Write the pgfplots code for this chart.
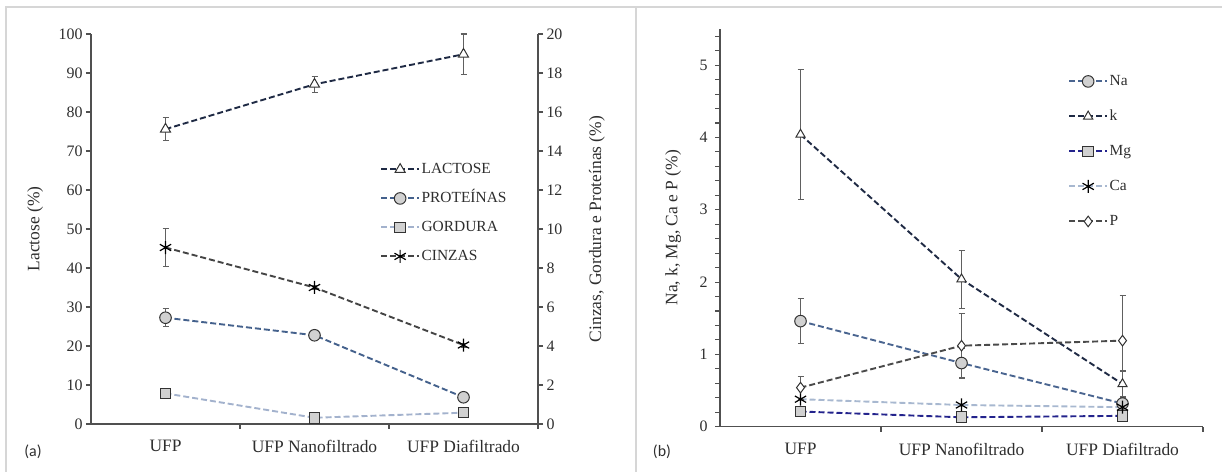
\documentclass[border=0pt]{standalone}
\usepackage{pgfplots}
\pgfplotsset{compat=1.18}
\usepackage{fontspec}
\setmainfont{Liberation Serif}
\newfontfamily\labfont{Carlito}
\definecolor{frameC}{HTML}{D6D6D6}
\definecolor{axisC}{HTML}{505050}
\definecolor{textC}{HTML}{2E2E2E}
\definecolor{errC}{HTML}{606060}
\definecolor{mkC}{HTML}{333333}
\definecolor{lactC}{HTML}{1F2A44}
\definecolor{protC}{HTML}{44618C}
\definecolor{gordC}{HTML}{A3B2CD}
\definecolor{cinzC}{HTML}{444444}
\definecolor{NaC}{HTML}{4A6590}
\definecolor{kC}{HTML}{1F2A44}
\definecolor{MgC}{HTML}{23238C}
\definecolor{CaC}{HTML}{A8B8D0}
\definecolor{PC}{HTML}{4A4A4A}
\tikzset{ylab/.style={font=\fontsize{17.5}{19}\selectfont, text=textC, rotate=90, anchor=center}}
\pgfplotsset{
  base/.style={scale only axis, xmin=0, xmax=3, clip=false,
    axis line style={axisC, line width=1.3bp},
    tick style={axisC, line width=1.1bp},
    tick align=outside, major tick length=5bp, minor tick length=5bp,
    yticklabel style={font=\fontsize{16}{18}\selectfont, text=textC},
    xticklabel style={font=\fontsize{17.5}{19}\selectfont, text=textC, yshift=-8bp},
    /pgf/number format/assume math mode=true,
    legend cell align=left,
    legend image code/.code={\draw[mark repeat=2,mark phase=2] plot coordinates {(0bp,0bp)(19bp,0bp)(38bp,0bp)};},
  },
  ser/.style={dash pattern=on 6bp off 3bp, line width=1.9bp},
  eb/.style={error bars/.cd, y dir=both, y explicit,
    error bar style={solid, line width=1.1bp, color=errC},
    error mark options={rotate=90, mark size=3bp, solid, errC, line width=1.1bp}},
  mtri/.style={mark=triangle*, mark size=5.8bp, mark options={solid, fill=white, draw=mkC, line width=1bp}},
  mcirc/.style={mark=*, mark size=5.8bp, mark options={solid, fill=black!18, draw=mkC, line width=1bp}},
  msq/.style={mark=square*, mark size=5.3bp, mark options={solid, fill=black!18, draw=mkC, line width=1bp}},
  mstar/.style={mark=asterisk, mark size=6.5bp, mark options={solid, draw=black, line width=1.2bp}},
  mdia/.style={mark=diamond*, mark size=5.3bp, mark options={solid, fill=white, draw=mkC, line width=1bp}},
}
\begin{document}
\begin{tikzpicture}[x=1bp,y=1bp]
\useasboundingbox (0,0) rectangle (1222,472);
\draw[frameC, line width=1.2bp] (6,0) -- (6,465) -- (1222,465);
\draw[frameC, line width=1.2bp] (636,0) -- (636,465);
\node[font=\labfont\fontsize{16}{18}\selectfont, text=textC] at (33,20) {(a)};
\node[font=\labfont\fontsize{16}{18}\selectfont, text=textC] at (662,20) {(b)};

% ---------- panel (a), left axis
\begin{axis}[base, at={(91bp,48bp)}, anchor=south west, width=447bp, height=390bp,
  axis y line*=left, axis x line*=bottom,
  ymin=0, ymax=100, ytick={0,10,...,100},
  xtick={0.5,1.5,2.5}, xticklabels={UFP, UFP Nanofiltrado, UFP Diafiltrado},
  major x tick style={draw=none}, minor xtick={1,2,3},
  ylabel={Lactose (\%)},
  every axis y label/.style={at={(axis description cs:-0.125,0.5)}, ylab},
]
\addplot[ser, lactC, mtri, eb] coordinates {
  (0.5,75.6) +- (0,3.0)
  (1.5,87.1) +- (0,2.0)
  (2.5,94.8) +- (0,5.2)
};
\end{axis}

% ---------- panel (a), right axis
\begin{axis}[base, at={(91bp,48bp)}, anchor=south west, width=447bp, height=390bp,
  axis y line*=right, axis x line=none,
  ymin=0, ymax=20, ytick={0,2,...,20},
  ylabel={Cinzas, Gordura e Proteínas (\%)},
  every axis y label/.style={at={(axis description cs:1.132,0.5)}, ylab},
  legend style={draw=none, fill=none, at={(axis description cs:0.6465,0.675)}, anchor=north west,
    font=\fontsize{15.5}{17}\selectfont, text=textC, row sep=12bp, inner sep=0pt,
    nodes={inner sep=1.5bp, text height=11bp, text depth=3bp}},
]
\addlegendimage{ser, lactC, mtri}
\addlegendentry{LACTOSE}
\addplot[ser, protC, mcirc, eb] coordinates {
  (0.5,5.45) +- (0,0.45)
  (1.5,4.55) +- (0,0.08)
  (2.5,1.37) +- (0,0.0)
};
\addlegendentry{PROTEÍNAS}
\addplot[ser, gordC, msq] coordinates {
  (0.5,1.57)
  (1.5,0.32)
  (2.5,0.58)
};
\addlegendentry{GORDURA}
\addplot[ser, cinzC, mstar, eb] coordinates {
  (0.5,9.05) +- (0,0.98)
  (1.5,7.0) +- (0,0.1)
  (2.5,4.05) +- (0,0.1)
};
\addlegendentry{CINZAS}
\end{axis}

% ---------- panel (b)
\begin{axis}[base, at={(720bp,45.3bp)}, anchor=south west, width=483bp, height=397.7bp,
  axis y line*=left, axis x line*=bottom,
  ymin=0, ymax=5.5, ytick={0,1,...,5}, minor ytick={0.2,0.4,...,5.41},
  yticklabel style={xshift=-4bp},
  xtick={0.5,1.5,2.5}, xticklabels={UFP, UFP Nanofiltrado, UFP Diafiltrado},
  major x tick style={draw=none}, minor xtick={1,2,3},
  ylabel={Na, k, Mg, Ca e P (\%)},
  every axis y label/.style={at={(axis description cs:-0.097,0.5)}, ylab},
  legend style={draw=none, fill=none, at={(axis description cs:0.7205,0.89)}, anchor=north west,
    font=\fontsize{15.5}{17}\selectfont, text=textC, row sep=18bp, inner sep=0pt,
    nodes={inner sep=1.5bp, text height=11bp, text depth=3bp}},
]
\addplot[ser, NaC, mcirc, eb] coordinates {
  (0.5,1.46) +- (0,0.31)
  (1.5,0.88) +- (0,0.2)
  (2.5,0.32) +- (0,0.05)
};
\addlegendentry{Na}
\addplot[ser, kC, mtri, mark size=5.3bp, eb] coordinates {
  (0.5,4.04) +- (0,0.9)
  (1.5,2.04) +- (0,0.4)
  (2.5,0.59) +- (0,0.18)
};
\addlegendentry{k}
\addplot[ser, MgC, msq] coordinates {
  (0.5,0.21)
  (1.5,0.13)
  (2.5,0.15)
};
\addlegendentry{Mg}
\addplot[ser, CaC, mstar] coordinates {
  (0.5,0.38)
  (1.5,0.30)
  (2.5,0.27)
};
\addlegendentry{Ca}
\addplot[ser, PC, mdia, eb] coordinates {
  (0.5,0.54) +- (0,0.16)
  (1.5,1.12) +- (0,0.45)
  (2.5,1.19) +- (0,0.63)
};
\addlegendentry{P}
\end{axis}
\end{tikzpicture}
\end{document}
